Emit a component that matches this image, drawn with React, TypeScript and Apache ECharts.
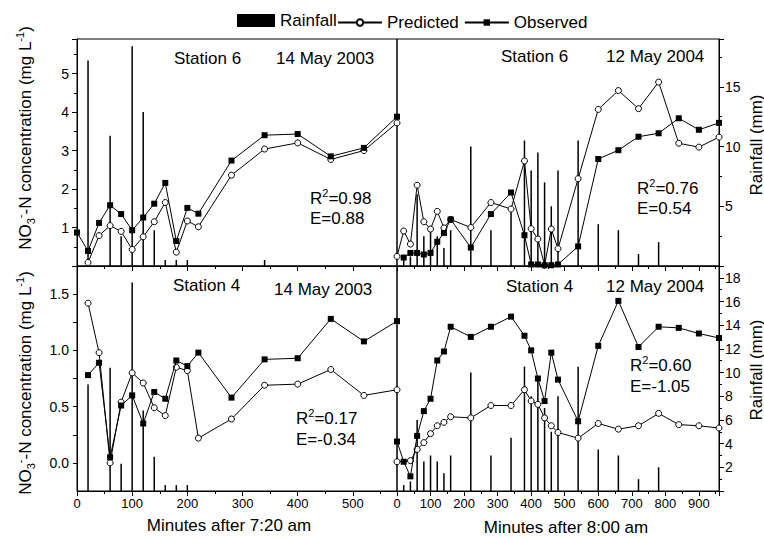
import React, { useEffect, useRef } from 'react';
import * as echarts from 'echarts';

// ---------- Data ----------
// Top-left: Station 6, 14 May 2003 (minutes after 7:20 am)
const tlObsMin = [0, 20, 40, 60, 80, 100, 120, 140, 160, 180, 200, 220, 280, 340, 400, 460, 520, 580];
const tlObs = [0.87, 0.39, 1.12, 1.58, 1.35, 0.93, 1.26, 1.62, 2.16, 0.65, 1.51, 1.36, 2.74, 3.40, 3.43, 2.85, 3.07, 3.88];
const tlPredMin = [20, 40, 60, 80, 100, 120, 140, 160, 180, 200, 220, 280, 340, 400, 460, 520, 580];
const tlPred = [0.09, 0.79, 1.05, 0.90, 0.43, 0.76, 1.15, 1.65, 0.36, 1.17, 1.02, 2.36, 3.04, 3.20, 2.77, 3.00, 3.72];
const tlRainMin = [20, 60, 80, 100, 120, 140, 160, 180, 200, 340];
const tlRain = [17.2, 10.9, 2.5, 18.4, 12.9, 3.0, 0.5, 0.5, 0.5, 0.5];

// Bottom-left: Station 4, 14 May 2003
const blMin = [20, 40, 60, 80, 100, 120, 140, 160, 180, 200, 220, 280, 340, 400, 460, 520, 580];
const blObs = [0.78, 0.89, 0.05, 0.51, 0.60, 0.35, 0.63, 0.57, 0.91, 0.86, 0.98, 0.58, 0.92, 0.93, 1.28, 1.08, 1.26];
const blPred = [1.42, 0.98, 0.00, 0.54, 0.80, 0.71, 0.49, 0.42, 0.85, 0.82, 0.22, 0.39, 0.69, 0.70, 0.83, 0.60, 0.65];
const blRainMin = [20, 60, 80, 100, 120, 140, 160, 180, 200];
const blRain = [9.0, 10.4, 2.3, 17.6, 6.8, 2.9, 0.5, 0.5, 0.5];

// Top-right: Station 6, 12 May 2004 (minutes after 8:00 am)
const trObsMin = [20, 40, 60, 80, 100, 120, 140, 160, 220, 280, 340, 380, 400, 420, 440, 460, 480, 540, 600, 660, 720, 780, 840, 900, 960];
const trObs = [0.22, 0.34, 0.34, 0.30, 0.34, 0.63, 0.86, 1.21, 0.48, 1.35, 1.91, 0.80, 0.04, 0.04, 0.02, 0.02, 0.04, 0.51, 2.78, 3.01, 3.36, 3.45, 3.84, 3.54, 3.72];
const trPredMin = [0, 20, 40, 60, 80, 100, 120, 140, 160, 220, 280, 340, 380, 400, 420, 440, 460, 480, 540, 600, 660, 720, 780, 840, 900, 960];
const trPred = [0.25, 0.91, 0.57, 2.10, 1.15, 0.96, 1.42, 0.99, 1.21, 1.00, 1.65, 1.48, 2.73, 0.97, 0.70, 0.02, 0.96, 0.45, 2.27, 4.07, 4.56, 4.09, 4.78, 3.19, 3.09, 3.35];

// Bottom-right: Station 4, 12 May 2004
const brObsMin = [0, 20, 40, 60, 80, 100, 120, 140, 160, 220, 280, 340, 380, 400, 420, 440, 460, 480, 540, 600, 660, 720, 780, 840, 900, 960];
const brObs = [0.19, 0.01, -0.12, 0.24, 0.46, 0.57, 0.91, 0.99, 1.21, 1.12, 1.21, 1.30, 1.13, 1.00, 0.75, 0.55, 0.98, 0.74, 0.37, 1.04, 1.44, 1.03, 1.21, 1.20, 1.15, 1.11];
const brPredMin = [0, 40, 60, 80, 100, 120, 140, 160, 220, 280, 340, 380, 400, 420, 440, 460, 480, 540, 600, 660, 720, 780, 840, 900, 960];
const brPred = [0.01, 0.02, 0.12, 0.18, 0.26, 0.33, 0.36, 0.41, 0.40, 0.51, 0.51, 0.65, 0.55, 0.52, 0.40, 0.33, 0.27, 0.22, 0.35, 0.30, 0.33, 0.44, 0.34, 0.33, 0.31];

// Rainfall 12 May 2004 (both right panels)
const rRainMin = [20, 40, 60, 80, 100, 120, 140, 160, 220, 280, 340, 380, 400, 420, 440, 460, 480, 540, 600, 660, 720, 780];
const rRain = [0.5, 0.8, 6.0, 2.5, 3.0, 2.5, 1.5, 3.0, 10.0, 3.0, 4.5, 10.5, 8.0, 9.5, 7.0, 5.0, 8.0, 10.5, 3.5, 3.0, 1.0, 2.0];

const panelTitles = [
  ['Station 6', '14 May 2003'],
  ['Station 6', '12 May 2004'],
  ['Station 4', '14 May 2003'],
  ['Station 4', '12 May 2004'],
];
const panelStats = [
  ['0.98', '0.88'],
  ['0.76', '0.54'],
  ['0.17', '-0.34'],
  ['0.60', '-1.05'],
];

const FONT = 'Liberation Sans, Arial, Helvetica, sans-serif';

const zip = (xs: number[], ys: number[]) => xs.map((x, i) => [x, ys[i]]);

export default function App() {
  const ref = useRef<HTMLDivElement>(null);

  useEffect(() => {
    if (!ref.current) return;
    const chart = echarts.init(ref.current, undefined, { renderer: 'svg' });

    const grids = [
      { left: 77, top: 39, width: 320, height: 227 },
      { left: 397, top: 39, width: 322, height: 227 },
      { left: 77, top: 266, width: 320, height: 225 },
      { left: 397, top: 266, width: 322, height: 225 },
    ].map((g) => ({ ...g, show: true, borderColor: '#000', borderWidth: 1, backgroundColor: 'transparent', containLabel: false }));

    const axLine = { show: true, onZero: false, lineStyle: { color: '#000', width: 1 } };
    const mkX = (gridIndex: number, max: number, labels: boolean) => ({
      type: 'value', gridIndex, min: 0, max, interval: 100, position: 'bottom',
      axisLine: axLine,
      axisTick: { show: true, inside: false, length: 5, lineStyle: { color: '#000' } },
      minorTick: { show: true, splitNumber: 2, length: 3, lineStyle: { color: '#000' } },
      splitLine: { show: false },
      axisLabel: {
        show: labels, color: '#000', fontSize: 13, fontFamily: FONT, margin: 6,
        showMaxLabel: false,
        formatter: (v: number) => (v % 100 === 0 && v <= 900 ? String(v) : ''),
      },
    });

    const xAxis = [mkX(0, 580, false), mkX(1, 960, false), mkX(2, 580, true), mkX(3, 960, true)];

    const hidden = (gridIndex: number, min: number, max: number) => ({
      type: 'value', gridIndex, min, max, show: false, splitLine: { show: false },
    });

    const yAxis = [
      // 0 TL concentration
      {
        type: 'value', gridIndex: 0, min: 0, max: 5.9, interval: 1, position: 'left',
        axisLine: axLine,
        axisTick: { show: true, inside: false, length: 5, lineStyle: { color: '#000' } },
        minorTick: { show: true, splitNumber: 2, length: 3, lineStyle: { color: '#000' } },
        splitLine: { show: false },
        axisLabel: {
          color: '#000', fontSize: 14, fontFamily: FONT, margin: 8, showMaxLabel: false, showMinLabel: false,
          formatter: (v: number) => (v > 0 && Number.isInteger(v) ? String(v) : ''),
        },
      },
      // 1 TL rain
      hidden(0, 0, 19),
      // 2 TR concentration
      hidden(1, 0, 5.9),
      // 3 TR rain
      {
        type: 'value', gridIndex: 1, min: 0, max: 19, interval: 5, position: 'right',
        axisLine: axLine,
        axisTick: { show: true, inside: false, length: 5, lineStyle: { color: '#000' } },
        minorTick: { show: true, splitNumber: 2, length: 3, lineStyle: { color: '#000' } },
        splitLine: { show: false },
        axisLabel: {
          color: '#000', fontSize: 14, fontFamily: FONT, margin: 6, showMaxLabel: false, showMinLabel: false,
          formatter: (v: number) => (v > 0 && v % 5 === 0 ? String(v) : ''),
        },
      },
      // 4 BL concentration
      {
        type: 'value', gridIndex: 2, min: -0.25, max: 1.75, interval: 0.25, position: 'left',
        axisLine: axLine,
        axisTick: { show: true, inside: false, length: 4, lineStyle: { color: '#000' } },
        splitLine: { show: false },
        axisLabel: {
          color: '#000', fontSize: 14, fontFamily: FONT, margin: 8, showMaxLabel: false, showMinLabel: false,
          formatter: (v: number) => {
            const k = Math.round(v * 4);
            return k >= 0 && k % 2 === 0 && k <= 6 ? v.toFixed(1) : '';
          },
        },
      },
      // 5 BL rain
      hidden(2, 0, 19),
      // 6 BR concentration
      hidden(3, -0.25, 1.75),
      // 7 BR rain
      {
        type: 'value', gridIndex: 3, min: 0, max: 19, interval: 2, position: 'right',
        axisLine: axLine,
        axisTick: { show: true, inside: false, length: 5, lineStyle: { color: '#000' } },
        minorTick: { show: true, splitNumber: 2, length: 3, lineStyle: { color: '#000' } },
        splitLine: { show: false },
        axisLabel: {
          color: '#000', fontSize: 14, fontFamily: FONT, margin: 6, showMaxLabel: false, showMinLabel: false,
          formatter: (v: number) => (v > 0 && v % 2 === 0 ? String(v) : ''),
        },
      },
    ];

    const panels = [
      { rainMin: tlRainMin, rain: tlRain, predMin: tlPredMin, pred: tlPred, obsMin: tlObsMin, obs: tlObs, conc: 0, rainAx: 1 },
      { rainMin: rRainMin, rain: rRain, predMin: trPredMin, pred: trPred, obsMin: trObsMin, obs: trObs, conc: 2, rainAx: 3 },
      { rainMin: blRainMin, rain: blRain, predMin: blMin, pred: blPred, obsMin: blMin, obs: blObs, conc: 4, rainAx: 5 },
      { rainMin: rRainMin, rain: rRain, predMin: brPredMin, pred: brPred, obsMin: brObsMin, obs: brObs, conc: 6, rainAx: 7 },
    ];

    const series: any[] = [];
    panels.forEach((p, i) => {
      series.push({
        name: 'Rainfall', type: 'bar', xAxisIndex: i, yAxisIndex: p.rainAx,
        data: zip(p.rainMin, p.rain), barWidth: 1.5, itemStyle: { color: '#000' }, z: 1,
      });
      series.push({
        name: 'Predicted', type: 'line', xAxisIndex: i, yAxisIndex: p.conc,
        data: zip(p.predMin, p.pred), symbol: 'circle', symbolSize: 6,
        itemStyle: { color: '#fff', borderColor: '#000', borderWidth: 1 },
        lineStyle: { color: '#000', width: 1 }, z: 3,
      });
      series.push({
        name: 'Observed', type: 'line', xAxisIndex: i, yAxisIndex: p.conc,
        data: zip(p.obsMin, p.obs), symbol: 'rect', symbolSize: 6,
        itemStyle: { color: '#000' },
        lineStyle: { color: '#000', width: 1 }, z: 4,
      });
    });

    const titlePos = [
      { sx: 174, dx: 276, y: 58 },
      { sx: 501, dx: 606, y: 56 },
      { sx: 173, dx: 274, y: 285, dy: 289 },
      { sx: 506, dx: 606, y: 286 },
    ];
    const statPos = [
      { x: 310, y1: 198, y2: 218 },
      { x: 637, y1: 188, y2: 208 },
      { x: 296, y1: 418, y2: 439 },
      { x: 630, y1: 365, y2: 386 },
    ];

    const rich = {
      sup: { fontSize: 11, fontFamily: FONT, verticalAlign: 'top', lineHeight: 12, fill: '#000' },
      sub: { fontSize: 11, fontFamily: FONT, verticalAlign: 'bottom', lineHeight: 12, fill: '#000' },
    };
    const txt = (text: string, x: number, y: number, extra: any = {}) => ({
      type: 'text', x, y, silent: true, rotation: extra.rotation || 0,
      style: {
        text, fontSize: 17, fontFamily: FONT, fill: '#000',
        align: extra.align || 'left', verticalAlign: 'middle', lineHeight: 22, rich,
      },
    });

    const graphic: any[] = [];
    panelTitles.forEach((t, i) => {
      const p = titlePos[i];
      graphic.push(txt(t[0], p.sx, p.y));
      graphic.push(txt(t[1], p.dx, (p as any).dy || p.y));
    });
    panelStats.forEach((s, i) => {
      const p = statPos[i];
      graphic.push(txt('R{sup|2}=' + s[0], p.x, p.y1));
      graphic.push(txt('E=' + s[1], p.x, p.y2));
    });
    const yName = 'NO{sub|3}{sup|-}-N concentration (mg L{sup|-1})';
    graphic.push(txt(yName, 25, 138, { rotation: Math.PI / 2, align: 'center' }));
    graphic.push(txt(yName, 25, 383, { rotation: Math.PI / 2, align: 'center' }));
    graphic.push(txt('Rainfall (mm)', 756, 145, { rotation: Math.PI / 2, align: 'center' }));
    graphic.push(txt('Rainfall (mm)', 756, 370, { rotation: Math.PI / 2, align: 'center' }));
    graphic.push(txt('Minutes after 7:20 am', 229, 525, { align: 'center' }));
    graphic.push(txt('Minutes after 8:00 am', 566, 527, { align: 'center' }));

    chart.setOption({
      animation: false,
      backgroundColor: '#fff',
      grid: grids,
      xAxis,
      yAxis,
      legend: [
        {
          data: [{ name: 'Rainfall', icon: 'rect' }], left: 237, top: 12, padding: 0,
          itemWidth: 38, itemHeight: 13, itemGap: 5,
          textStyle: { fontSize: 17, fontFamily: FONT, color: '#000' },
          selectedMode: false,
        },
        {
          data: ['Predicted', 'Observed'], left: 337, top: 14, padding: 0,
          itemWidth: 44, itemHeight: 8, itemGap: 5,
          textStyle: { fontSize: 17, fontFamily: FONT, color: '#000' },
          selectedMode: false,
        },
      ],
      series,
      graphic,
    } as any);

    return () => chart.dispose();
  }, []);

  return <div ref={ref} style={{ position: 'fixed', left: 0, top: 0, width: 764, height: 538 }} />;
}
